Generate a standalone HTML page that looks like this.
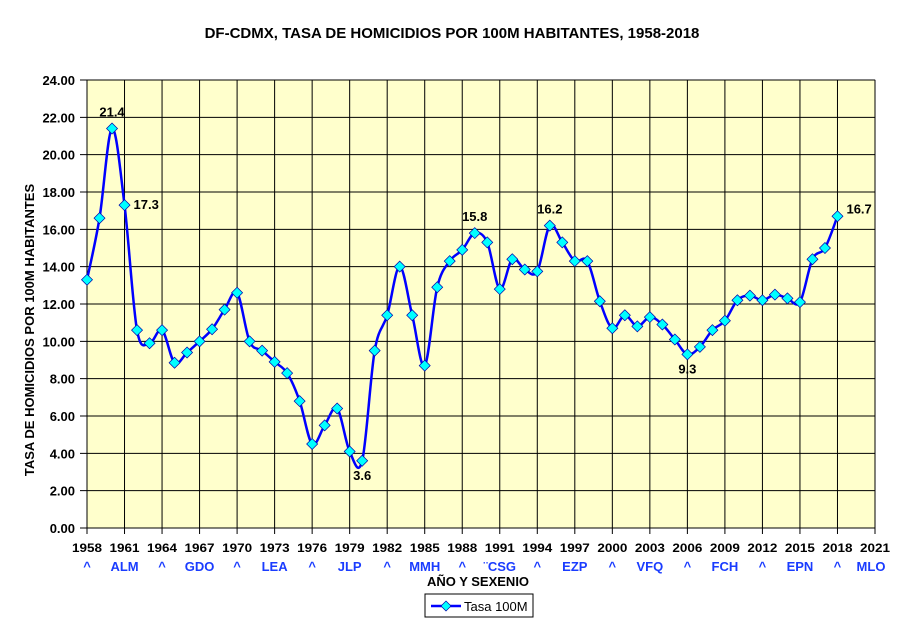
<!DOCTYPE html>
<html><head><meta charset="utf-8"><style>
body{margin:0;background:#fff;}
svg text{font-family:"Liberation Sans",Arial,sans-serif;}
</style></head><body>
<svg width="904" height="626" xmlns="http://www.w3.org/2000/svg">
<text x="452" y="38" text-anchor="middle" font-size="15" font-weight="bold">DF-CDMX, TASA DE HOMICIDIOS POR 100M HABITANTES, 1958-2018</text>
<rect x="87" y="80" width="788" height="448" fill="#FFFFCC" stroke="#999"/>
<g id="grid"></g>
<g id="axes"></g>
<path id="line" fill="none" stroke="#0000FF" stroke-width="2.5"/>
<g id="marks"></g>
<g id="labels"></g>
<text transform="translate(34,330) rotate(-90)" text-anchor="middle" font-size="13" font-weight="bold">TASA DE HOMICIDIOS POR 100M HABITANTES</text>
<text x="478" y="586" text-anchor="middle" font-size="13" font-weight="bold">AÑO Y SEXENIO</text>
<g>
<rect x="425" y="594" width="108" height="23" fill="#fff" stroke="#000"/>
<line x1="431" y1="606" x2="461" y2="606" stroke="#0000FF" stroke-width="2.5"/>
<path d="M446 601 L451 606 L446 611 L441 606Z" fill="#00FFFF" stroke="#0000AA" stroke-width="0.7"/>
<text x="464" y="611" font-size="13">Tasa 100M</text>
</g>
</svg>
<script>
const years=[1958,1959,1960,1961,1962,1963,1964,1965,1966,1967,1968,1969,1970,1971,1972,1973,1974,1975,1976,1977,1978,1979,1980,1981,1982,1983,1984,1985,1986,1987,1988,1989,1990,1991,1992,1993,1994,1995,1996,1997,1998,1999,2000,2001,2002,2003,2004,2005,2006,2007,2008,2009,2010,2011,2012,2013,2014,2015,2016,2017,2018];
const rates=[13.3,16.6,21.4,17.3,10.6,9.9,10.6,8.85,9.4,10.0,10.65,11.7,12.6,10.0,9.5,8.9,8.3,6.8,4.5,5.5,6.4,4.1,3.6,9.5,11.4,14.0,11.4,8.7,12.9,14.3,14.9,15.8,15.3,12.8,14.4,13.85,13.75,16.2,15.3,14.3,14.3,12.15,10.7,11.4,10.8,11.3,10.9,10.1,9.3,9.7,10.6,11.1,12.2,12.45,12.2,12.5,12.3,12.1,14.4,15.0,16.7];
const yTicks=[0,2,4,6,8,10,12,14,16,18,20,22,24];
const xTicks=[1958,1961,1964,1967,1970,1973,1976,1979,1982,1985,1988,1991,1994,1997,2000,2003,2006,2009,2012,2015,2018,2021];
const sexenios=["^","ALM","^","GDO","^","LEA","^","JLP","^","MMH","^","¨CSG","^","EZP","^","VFQ","^","FCH","^","EPN","^","MLO"];
const annotYears=[1960,1961,1980,1989,1995,2006,2018];
const annotText=["21.4","17.3","3.6","15.8","16.2","9.3","16.7"];
const X=y=>87+(y-1958)*788/63;
const Y=v=>528-v*448/24;
const NS="http://www.w3.org/2000/svg";
function mk(t,a,p){const e=document.createElementNS(NS,t);for(const k in a)e.setAttribute(k,a[k]);p.appendChild(e);return e;}
const grid=document.getElementById('grid'),axes=document.getElementById('axes');
yTicks.forEach(v=>{
 const l=mk('line',{x1:80,x2:875,y1:Y(v),y2:Y(v),stroke:'#000','stroke-width':1},grid);
 
 
 const t=mk('text',{x:75,y:Y(v)+5,'text-anchor':'end','font-size':13,'font-weight':'bold'},axes);
 t.textContent=v.toFixed(2);
 
 
});
xTicks.forEach((yr,i)=>{
 const l=mk('line',{x1:X(yr),x2:X(yr),y1:80,y2:534,stroke:'#000','stroke-width':1},grid);
 
 
 const t=mk('text',{x:X(yr),y:552,'text-anchor':'middle','font-size':12,'font-weight':'bold',textLength:30,lengthAdjust:'spacingAndGlyphs'},axes);
 t.textContent=yr;
 
 
 const s=mk('text',{x:X(yr)+(i==21?-4:0),y:571,'text-anchor':'middle','font-size':13,'font-weight':'bold',fill:'#1a3cff'},axes);
 s.textContent=sexenios[i];
 
 
});
const pts=years.map((y,i)=>[X(y),Y(rates[i])]);
let d='M'+pts[0][0]+' '+pts[0][1];
for(let i=0;i<pts.length-1;i++){
 const p0=pts[Math.max(0,i-1)],p1=pts[i],p2=pts[i+1],p3=pts[Math.min(pts.length-1,i+2)];
 const k=1/6;
 d+=` C${p1[0]+(p2[0]-p0[0])*k} ${p1[1]+(p2[1]-p0[1])*k} ${p2[0]-(p3[0]-p1[0])*k} ${p2[1]-(p3[1]-p1[1])*k} ${p2[0]} ${p2[1]}`;
}
document.getElementById('line').setAttribute('d',d);
const marks=document.getElementById('marks');
pts.forEach(([x,y])=>{
 const m=mk('path',{d:`M${x} ${y-5.5} L${x+5.5} ${y} L${x} ${y+5.5} L${x-5.5} ${y}Z`,fill:'#00FFFF',stroke:'#0000AA','stroke-width':0.7},marks);
 
 
});
const labs=document.getElementById('labels');
const offs={1960:[0,-12,'middle'],1961:[9,4,'start'],1980:[0,19,'middle'],1989:[0,-12,'middle'],1995:[0,-12,'middle'],2006:[0,19,'middle'],2018:[9,-3,'start']};
annotYears.forEach((yr,i)=>{
 const v=rates[years.indexOf(yr)],o=offs[yr]||[0,-12,'middle'];
 const t=mk('text',{x:X(yr)+o[0],y:Y(v)+o[1],'text-anchor':o[2],'font-size':13,'font-weight':'bold'},labs);
 t.textContent=annotText[i];
 
 
});
</script>
</body></html>
